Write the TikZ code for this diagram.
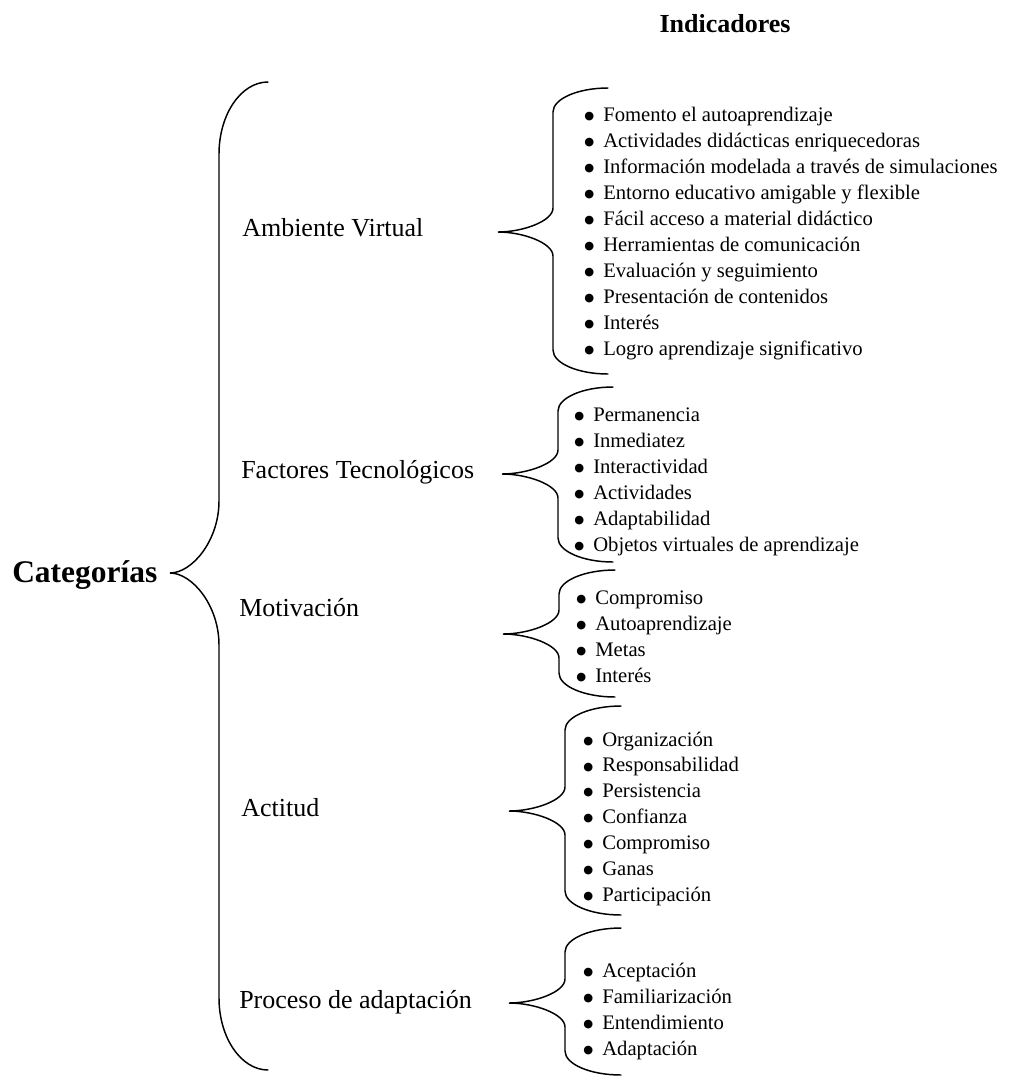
\documentclass[tikz,border=0pt]{standalone}
\usepackage{fontspec}
\setmainfont{Liberation Serif}
\newfontfamily\simbolos{DejaVu Sans}
\usepackage{tikz}
\tikzstyle{titulo} = [font=\fontsize{23.6}{28}\selectfont\bfseries, anchor=base west, inner sep=0pt]
\tikzstyle{encabezado} = [font=\fontsize{19.5}{23}\selectfont\bfseries, anchor=base, inner sep=0pt]
\tikzstyle{categoria} = [font=\fontsize{19.5}{23}\selectfont, anchor=base west, inner sep=0pt]
\tikzstyle{indicador} = [font=\fontsize{15.5}{19}\selectfont, anchor=base west, inner sep=0pt]
\tikzstyle{llave} = [line width=1.1pt, line cap=round]
% #1 end x, #2 spine x, #3 tip x, #4 top y, #5 tip y, #6 bottom y, #7 curve height
\newcommand{\corchete}[7]{%
  \draw[llave] (#1,#4) .. controls ({#2+0.45*(#1-#2)},#4) and (#2,{#4+0.45*#7}) .. (#2,{#4+#7})
    -- (#2,{#5-#7}) .. controls (#2,{#5-0.45*#7}) and ({#3+0.45*(#2-#3)},#5) .. (#3,#5)
    .. controls ({#3+0.45*(#2-#3)},#5) and (#2,{#5+0.45*#7}) .. (#2,{#5+#7})
    -- (#2,{#6-#7}) .. controls (#2,{#6-0.45*#7}) and ({#2+0.45*(#1-#2)},#6) .. (#1,#6);}
\newcommand{\vineta}{\makebox[14.25pt][l]{\raisebox{1.4pt}{\fontsize{8.5}{8.5}\simbolos ●}}}

\begin{document}
\begin{tikzpicture}[x=0.75pt, y=-0.75pt]
    \useasboundingbox (0,0) rectangle (1018,1078);
    % Headings
    \node[encabezado] (ind) at (725,32) {Indicadores};
    \node[titulo] (cat) at (12,582) {Categorías};
    % Categories
    \node[categoria] (amb) at (242,236) {Ambiente Virtual};
    \node[categoria] (fac) at (241,478) {Factores Tecnológicos};
    \node[categoria] (mot) at (239,616) {Motivación};
    \node[categoria] (act) at (241,816) {Actitud};
    \node[categoria] (pro) at (239,1008) {Proceso de adaptación};

    % Braces
    \corchete{268}{219}{170}{82}{573}{1070}{72}
    \corchete{608}{553}{498}{88}{232}{374}{24}
    \corchete{613}{558}{502}{387}{474}{562}{24}
    \corchete{615}{559}{503}{570}{634}{697}{24}
    \corchete{621}{565}{509}{706}{811}{915}{24}
    \corchete{621}{565}{509}{928}{1003}{1075}{24}

    % Indicators
    \foreach \t [count=\i] in {Fomento el autoaprendizaje, Actividades didácticas enriquecedoras,
        Información modelada a través de simulaciones, Entorno educativo amigable y flexible,
        Fácil acceso a material didáctico, Herramientas de comunicación, Evaluación y seguimiento,
        Presentación de contenidos, Interés, Logro aprendizaje significativo}
      \node[indicador] (amb\i) at (584,{121+26*(\i-1)}) {\vineta\t};
    \foreach \t [count=\i] in {Permanencia, Inmediatez, Interactividad, Actividades,
        Adaptabilidad, Objetos virtuales de aprendizaje}
      \node[indicador] (fac\i) at (574,{421+26*(\i-1)}) {\vineta\t};
    \foreach \t [count=\i] in {Compromiso, Autoaprendizaje, Metas, Interés}
      \node[indicador] (mot\i) at (576,{604+26*(\i-1)}) {\vineta\t};
    \foreach \t [count=\i] in {Organización, Responsabilidad, Persistencia, Confianza,
        Compromiso, Ganas, Participación}
      \node[indicador] (act\i) at (583,{746+25.9*(\i-1)}) {\vineta\t};
    \foreach \t [count=\i] in {Aceptación, Familiarización, Entendimiento, Adaptación}
      \node[indicador] (pro\i) at (583,{977+26*(\i-1)}) {\vineta\t};
\end{tikzpicture}
\end{document}
